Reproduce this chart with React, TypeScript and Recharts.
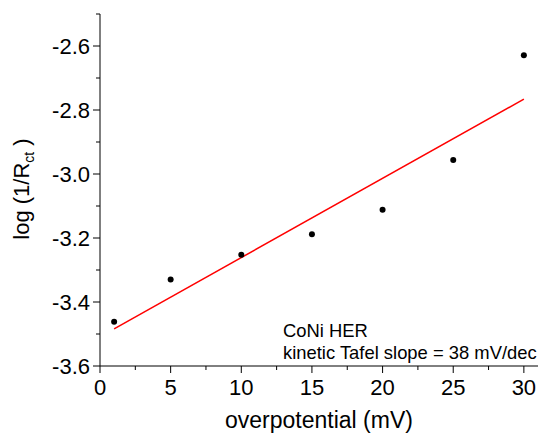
import { ComposedChart, Scatter, Line, XAxis, YAxis } from "recharts";

// measured points
const overpotential = [1, 5, 10, 15, 20, 25, 30];
const logInvRct = [-3.462, -3.33, -3.252, -3.188, -3.112, -2.956, -2.629];

// linear fit endpoints
const fitOverpotential = [1, 30];
const fitLogInvRct = [-3.484, -2.766];

const xMajorTicks = [0, 5, 10, 15, 20, 25, 30];
const xTicks = [0, 2.5, 5, 7.5, 10, 12.5, 15, 17.5, 20, 22.5, 25, 27.5, 30];
const yMajorTicks = [-3.6, -3.4, -3.2, -3.0, -2.8, -2.6];
const yTicks = [-3.6, -3.5, -3.4, -3.3, -3.2, -3.1, -3.0, -2.9, -2.8, -2.7, -2.6, -2.5];

const noteLines = ["CoNi HER", "kinetic Tafel slope = 38 mV/dec"];

const FONT = "'Liberation Sans', Arial, sans-serif";
const TICK_SIZE = 7;
const TICK_MARGIN = 3;

const points = overpotential.map((x, i) => ({ x, y: logInvRct[i] }));
const fit = fitOverpotential.map((x, i) => ({ x, fit: fitLogInvRct[i] }));

const isMajor = (list: number[], v: number) => list.some((m) => Math.abs(m - v) < 1e-6);

function XTick({ x, y, payload }: any) {
  const major = isMajor(xMajorTicks, payload.value);
  const top = y - TICK_SIZE - TICK_MARGIN;
  return (
    <g>
      <line x1={x} x2={x} y1={top} y2={top + (major ? TICK_SIZE : 4)} stroke="#000" strokeWidth={1} />
      {major && (
        <text x={x} y={y + 19} textAnchor="middle" fontSize={22} fontFamily={FONT} fill="#000">
          {payload.value}
        </text>
      )}
    </g>
  );
}

function YTick({ x, y, payload }: any) {
  const major = isMajor(yMajorTicks, payload.value);
  const axisX = x + TICK_SIZE + TICK_MARGIN;
  return (
    <g>
      <line x1={axisX - (major ? TICK_SIZE : 4)} x2={axisX} y1={y} y2={y} stroke="#000" strokeWidth={1} />
      {major && (
        <text x={x} y={y + 8} textAnchor="end" fontSize={22} fontFamily={FONT} fill="#000">
          {payload.value.toFixed(1)}
        </text>
      )}
    </g>
  );
}

function XLabel({ viewBox }: any) {
  return (
    <text x={viewBox.x + viewBox.width / 2} y={viewBox.y + 62} textAnchor="middle" fontSize={23} fontFamily={FONT} fill="#000">
      overpotential (mV)
    </text>
  );
}

function YLabel({ viewBox }: any) {
  const cx = 29;
  const cy = viewBox.y + viewBox.height / 2 - 1;
  return (
    <text x={cx} y={cy} transform={`rotate(-90, ${cx}, ${cy})`} textAnchor="middle" fontSize={22} fontFamily={FONT} fill="#000">
      log (1/R
      <tspan fontSize={14} dy={5}>ct</tspan>
      <tspan dy={-5}> )</tspan>
    </text>
  );
}

export default function App() {
  return (
    <div style={{ position: "absolute", left: 0, top: 0, background: "#fff" }}>
      <ComposedChart width={539} height={437} margin={{ top: 14, right: 1, left: 0, bottom: 0 }}>
        <XAxis
          type="number"
          dataKey="x"
          domain={[0, 31]}
          ticks={xTicks}
          interval={0}
          tickSize={TICK_SIZE}
          tickMargin={TICK_MARGIN}
          tickLine={false}
          tick={<XTick />}
          height={71}
          stroke="#000"
          allowDataOverflow
          label={<XLabel />}
        />
        <YAxis
          type="number"
          domain={[-3.6, -2.5]}
          ticks={yTicks}
          interval={0}
          tickSize={TICK_SIZE}
          tickMargin={TICK_MARGIN}
          tickLine={false}
          tick={<YTick />}
          width={100}
          stroke="#000"
          allowDataOverflow
          label={<YLabel />}
        />
        <Line
          data={fit}
          dataKey="fit"
          type="linear"
          stroke="#ff0000"
          strokeWidth={1.5}
          dot={false}
          isAnimationActive={false}
        />
        <Scatter
          data={points}
          dataKey="y"
          fill="#000"
          shape={(p: any) => <circle cx={p.cx} cy={p.cy} r={3} fill="#000" />}
          isAnimationActive={false}
        />
        <text fontSize={18.4} fontFamily={FONT} fill="#000">
          {noteLines.map((t, i) => (
            <tspan key={t} x={283} y={337 + i * 22}>
              {t}
            </tspan>
          ))}
        </text>
      </ComposedChart>
    </div>
  );
}
